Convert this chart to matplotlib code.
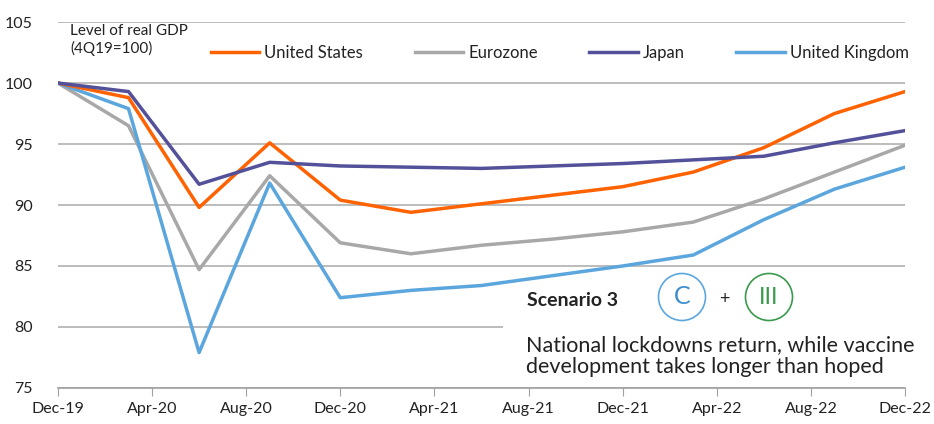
import matplotlib
matplotlib.use("Agg")
from matplotlib import pyplot as plt
from matplotlib.patches import Ellipse, Rectangle

plt.rcParams['font.family'] = ['Lato', 'DejaVu Sans']

# months since Dec-19, quarterly
months = [0, 3, 6, 9, 12, 15, 18, 21, 24, 27, 30, 33, 36]
us = [100, 98.8, 89.8, 95.1, 90.4, 89.4, 90.1, 90.8, 91.5, 92.7, 94.7, 97.5, 99.3]
eurozone = [100, 96.5, 84.7, 92.4, 86.9, 86.0, 86.7, 87.2, 87.8, 88.6, 90.5, 92.7, 94.9]
japan = [100, 99.3, 91.7, 93.5, 93.2, 93.1, 93.0, 93.2, 93.4, 93.7, 94.0, 95.1, 96.1]
uk = [100, 97.9, 77.9, 91.8, 82.4, 83.0, 83.4, 84.2, 85.0, 85.9, 88.8, 91.3, 93.1]

tick_months = [0, 4, 8, 12, 16, 20, 24, 28, 32, 36]
tick_labels = ["Dec-19", "Apr-20", "Aug-20", "Dec-20", "Apr-21", "Aug-21",
               "Dec-21", "Apr-22", "Aug-22", "Dec-22"]

c_us = "#FF6200"
c_ez = "#A8A8A8"
c_jp = "#525199"
c_uk = "#5CA6DE"
txt = "#222222"

fig = plt.figure(figsize=(9.34, 4.24), dpi=100)
ax = fig.add_axes([0.062, 0.085, 0.907, 0.863])

ax.plot(months, us, color=c_us, lw=2.5, label="United States", zorder=4)
ax.plot(months, eurozone, color=c_ez, lw=2.5, label="Eurozone", zorder=3)
ax.plot(months, japan, color=c_jp, lw=2.5, label="Japan", zorder=4)
ax.plot(months, uk, color=c_uk, lw=2.5, label="United Kingdom", zorder=3)

ax.set_xlim(0, 36)
ax.set_ylim(75, 105)
ax.set_yticks([75, 80, 85, 90, 95, 100, 105])
ax.set_xticks(tick_months)
ax.set_xticklabels(tick_labels)
ax.yaxis.grid(True, color="#B0B0B0", lw=1.2)
ax.set_axisbelow(True)
for s in ["top", "right", "left"]:
    ax.spines[s].set_visible(False)
ax.spines["bottom"].set_color("#A0A0A0")
ax.spines["bottom"].set_linewidth(1.2)
ax.tick_params(axis="y", length=0, labelsize=11.5, labelcolor=txt, pad=18)
ax.tick_params(axis="x", length=6, color="#A0A0A0", labelsize=11.5,
               labelcolor=txt, direction="out", pad=4)

# white panel for the scenario note
ax.add_patch(Rectangle((18.9, 75.1), 17.1, 9.4, facecolor="white",
                       edgecolor="none", zorder=2))

leg = ax.legend(loc="upper left", bbox_to_anchor=(0.163, 0.978), ncol=4,
                frameon=False, fontsize=12, handlelength=2.9,
                handletextpad=0.3, columnspacing=3.1)
for t in leg.get_texts():
    t.set_color(txt)

fig.text(70 / 934, 1 - 40 / 424, "Level of real GDP\n(4Q19=100)", fontsize=11,
         color=txt, va="center", ha="left", linespacing=1.25)

fig.text(527 / 934, 1 - 301 / 424, "Scenario 3", fontsize=14,
         fontweight="bold", color=txt, va="center", ha="left")
fig.patches.append(Ellipse((682 / 934, 1 - 297 / 424), 47 / 934, 47 / 424,
                           transform=fig.transFigure, fc="white", ec=c_uk,
                           lw=1.2))
fig.text(682 / 934, 1 - 297 / 424, "C", fontsize=18, color="#3C8CCB",
         ha="center", va="center")
fig.text(724 / 934, 1 - 299 / 424, "+", fontsize=13, color=txt,
         ha="center", va="center")
fig.patches.append(Ellipse((769 / 934, 1 - 297 / 424), 47 / 934, 47 / 424,
                           transform=fig.transFigure, fc="white", ec="#3A9A4E",
                           lw=1.2))
fig.text(769 / 934, 1 - 297 / 424, "III", fontsize=17, color="#3A9A4E",
         ha="center", va="center")
fig.text(526 / 934, 1 - 356 / 424,
         "National lockdowns return, while vaccine\ndevelopment takes longer than hoped",
         fontsize=15.5, color=txt, ha="left", va="center", linespacing=1.15)

fig.savefig("out.png", dpi=100)
